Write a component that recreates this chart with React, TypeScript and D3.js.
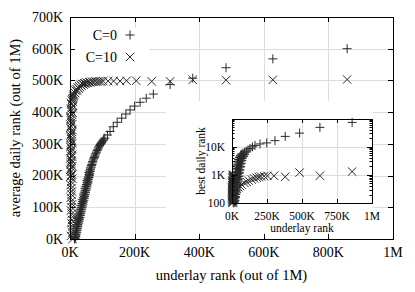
import React from "react";
import * as d3 from "d3";

// underlay rank (K) vs average daily rank (K), main plot
const c0Average = [
  [14, 0], [15, 5], [17, 10], [16, 16], [18, 22], [20, 28], [19, 34], [22, 40], [23, 46], [22, 52],
  [25, 58], [27, 64], [26, 70], [29, 76], [31, 82], [30, 88], [33, 94], [35, 100], [34, 106], [37, 112],
  [39, 118], [38, 124], [41, 130], [43, 136], [42, 142], [45, 148], [47, 154], [46, 160], [49, 166], [51, 172],
  [53, 178], [52, 184], [55, 190], [57, 196], [59, 203], [58, 210], [61, 217], [63, 224], [66, 232], [69, 240],
  [72, 249], [75, 257], [78, 265], [82, 274], [86, 283], [90, 291], [94, 298], [98, 304], [103, 311], [108, 318],
  [116, 328], [124, 339], [134, 354], [146, 368], [160, 381], [173, 394], [186, 407], [200, 419], [217, 431],
  [236, 444], [258, 457], [310, 487], [380, 507], [483, 540], [628, 568], [858, 600],
  [16, 2], [18, 8], [19, 14], [21, 20], [21, 26], [23, 32], [24, 38], [25, 44], [27, 50], [28, 56],
  [29, 62], [31, 68], [32, 74], [33, 80], [35, 86], [36, 92], [37, 98], [39, 104], [40, 110], [41, 116],
  [43, 122], [44, 128], [45, 134], [47, 140], [48, 146], [49, 152], [51, 158], [52, 164], [53, 170], [55, 176],
  [56, 182], [57, 188], [59, 194], [60, 200], [61, 206], [63, 213], [64, 220], [66, 227], [68, 235], [70, 244],
  [74, 253], [77, 261], [80, 270], [84, 279], [88, 287], [92, 295], [96, 301], [100, 308], [105, 315],
];

const c10Average = [
  [8, 0], [7, 20], [7, 40], [6, 60], [6, 80], [5, 100], [5, 120], [5, 140], [4, 160], [4, 180],
  [4, 200], [3, 212], [5, 224], [2, 236], [4, 248], [6, 260], [2, 272], [5, 284], [3, 296], [6, 308],
  [2, 320], [4, 332], [7, 344], [3, 356], [5, 368], [2, 380], [6, 392], [4, 404], [7, 414], [5, 424],
  [8, 433], [7, 441], [10, 449], [12, 456], [14, 462], [17, 468], [20, 473], [24, 478], [28, 482], [33, 486],
  [38, 489], [44, 491], [51, 493], [59, 495], [68, 496], [78, 497], [90, 497], [103, 498], [118, 498], [135, 498],
  [155, 498], [175, 499], [205, 499], [253, 497], [310, 497], [380, 502], [483, 501], [628, 502], [858, 503],
  [3, 10], [6, 30], [4, 50], [8, 70], [3, 90], [7, 110], [2, 130], [6, 150], [2, 170], [7, 190],
  [1, 196], [6, 204], [1, 218], [7, 230], [3, 242], [1, 254], [7, 266], [3, 278], [1, 290], [7, 302],
  [4, 314], [1, 326], [6, 338], [1, 350], [7, 362], [3, 374], [1, 386], [8, 398], [2, 410], [9, 420],
  [3, 429], [6, 437], [9, 444], [12, 452], [16, 460], [22, 468], [27, 474], [31, 479], [36, 483], [42, 487],
  [48, 490], [55, 492], [63, 494], [73, 495], [84, 496], [96, 497],
];

// underlay rank (K) vs best daily rank, inset
const c0Best = [
  [14, 100], [18, 110], [12, 125], [20, 140], [15, 155], [24, 170], [13, 190], [19, 210], [26, 230], [16, 255],
  [22, 280], [30, 310], [17, 340], [25, 370], [33, 400], [20, 440], [28, 480], [36, 520], [23, 570], [31, 620],
  [40, 680], [26, 740], [34, 800], [44, 870], [29, 950], [38, 1030], [48, 1120], [32, 1220], [42, 1330], [52, 1450],
  [36, 1580], [46, 1720], [56, 1870], [40, 2030], [50, 2200], [60, 2400], [45, 2600], [55, 2850], [65, 3100], [50, 3350],
  [60, 3650], [72, 3950], [57, 4300], [68, 4650], [80, 5000], [66, 5400], [78, 5800], [90, 6300], [102, 6900], [114, 7600],
  [128, 8600], [146, 9800], [164, 11000], [200, 12400], [248, 13500], [307, 16200], [380, 23000], [483, 30000],
  [628, 48000], [858, 72000],
  [8, 105], [22, 120], [10, 145], [25, 160], [9, 180], [28, 200], [11, 240], [30, 270], [14, 300], [35, 350],
  [12, 390], [38, 450], [18, 500], [42, 560], [21, 650], [46, 720], [24, 820], [50, 900], [27, 1050], [54, 1180],
  [30, 1300], [58, 1500], [34, 1700], [62, 1950], [38, 2250], [66, 2550], [43, 2900], [70, 3250], [48, 3500], [75, 3900],
  [54, 4100], [84, 4500], [62, 4900], [90, 5300],
];

const c10Best = [
  [3, 100], [6, 105], [2, 112], [8, 118], [4, 125], [1, 132], [7, 140], [3, 148], [9, 156], [5, 165],
  [2, 175], [8, 185], [4, 196], [10, 208], [6, 220], [3, 233], [9, 247], [5, 262], [12, 278], [7, 295],
  [3, 313], [10, 332], [5, 352], [14, 373], [8, 395], [4, 420], [12, 445], [6, 472], [16, 500], [9, 530],
  [5, 562], [13, 596], [8, 632], [18, 670], [11, 710], [6, 750], [15, 795], [9, 840], [20, 890], [12, 940],
  [7, 1000], [15, 220], [25, 270], [35, 320], [45, 360], [57, 400], [69, 450], [88, 520], [105, 560], [120, 620],
  [141, 680], [158, 740], [176, 790], [192, 830], [207, 870], [230, 900], [253, 920], [300, 920], [380, 850],
  [483, 1200], [628, 930], [858, 1300],
  [1, 160], [5, 180], [2, 205], [7, 230], [1, 260], [4, 290], [8, 320], [2, 350], [6, 390], [3, 430],
  [10, 480], [2, 520], [7, 580], [4, 640], [12, 700], [3, 770], [9, 850], [5, 920],
];

const mainXTicks = [0, 200, 400, 600, 800, 1000];
const mainXLabels = ["0K", "200K", "400K", "600K", "800K", "1M"];
const mainYTicks = [0, 100, 200, 300, 400, 500, 600, 700];
const mainYLabels = ["0K", "100K", "200K", "300K", "400K", "500K", "600K", "700K"];

const insetXTicks = [0, 250, 500, 750, 1000];
const insetXLabels = ["0K", "250K", "500K", "750K", "1M"];
const insetYTicks = [100, 1000, 10000];
const insetYLabels = ["100", "1K", "10K"];

const seriesNames = ["C=0", "C=10"];

const FONT = "'Liberation Serif', 'Times New Roman', serif";
const INK = "#2a2a2a";
const GRID = "#dcdcdc";

const plus = (cx, cy, s = 4.5) => `M${cx - s},${cy}h${2 * s}M${cx},${cy - s}v${2 * s}`;
const cross = (cx, cy, s = 4.2) => `M${cx - s},${cy - s}l${2 * s},${2 * s}M${cx - s},${cy + s}l${2 * s},${-2 * s}`;
const px = (v) => Math.round(v) + 0.5;

export default function App() {
  const x = d3.scaleLinear().domain([0, 1000]).range([70, 393]);
  const y = d3.scaleLinear().domain([0, 700]).range([239, 17]);
  const xi = d3.scaleLinear().domain([0, 1000]).range([232, 372]);
  const yi = d3.scaleLog().domain([100, 95000]).range([203, 119]);

  const [x0, x1] = x.range();
  const [y0, y1] = y.range();
  const [ix0, ix1] = xi.range();
  const [iy0, iy1] = yi.range();

  const minor = [];
  [100, 1000, 10000].forEach((d) => {
    for (let k = 2; k <= 9; k++) if (d * k <= yi.domain()[1]) minor.push(d * k);
  });

  return (
    <svg width={415} height={292} style={{ position: "absolute", left: 0, top: 0, background: "#fff" }} fontFamily={FONT}>
      {/* main grid */}
      <g stroke={GRID} strokeWidth={1}>
        {mainXTicks.slice(1, -1).map((t) => (
          <line key={"gx" + t} x1={px(x(t))} x2={px(x(t))} y1={y1} y2={y0} />
        ))}
        {mainYTicks.slice(1, -1).map((t) => (
          <line key={"gy" + t} x1={x0} x2={x1} y1={px(y(t))} y2={px(y(t))} />
        ))}
      </g>

      {/* main data */}
      <path d={c0Average.map(([a, b]) => plus(x(a), y(b))).join("")} stroke={INK} strokeWidth={1} fill="none" />
      <path d={c10Average.map(([a, b]) => cross(x(a), y(b))).join("")} stroke={INK} strokeWidth={1} fill="none" />

      {/* legend */}
      <rect x={71} y={28} width={78} height={48} fill="#fff" />
      <text x={117} y={35} dy="0.35em" textAnchor="end" fontSize={14}>{seriesNames[0]}</text>
      <path d={plus(130, 35)} stroke={INK} fill="none" />
      <text x={117} y={57} dy="0.35em" textAnchor="end" fontSize={14}>{seriesNames[1]}</text>
      <path d={cross(130, 57)} stroke={INK} fill="none" />

      {/* main frame and ticks */}
      <g stroke="#000" strokeWidth={1}>
        {mainXTicks.slice(1, -1).map((t) => (
          <g key={"tx" + t}>
            <line x1={px(x(t))} x2={px(x(t))} y1={y0} y2={y0 - 5} />
            <line x1={px(x(t))} x2={px(x(t))} y1={y1} y2={y1 + 5} />
          </g>
        ))}
        {mainYTicks.slice(1, -1).map((t) => (
          <g key={"ty" + t}>
            <line x1={x0} x2={x0 + 5} y1={px(y(t))} y2={px(y(t))} />
            <line x1={x1} x2={x1 - 5} y1={px(y(t))} y2={px(y(t))} />
          </g>
        ))}
      </g>
      <rect x={px(x0)} y={px(y1)} width={Math.round(x1 - x0)} height={Math.round(y0 - y1)} fill="none" stroke="#000" />

      {mainXTicks.map((t, i) => (
        <text key={"lx" + t} x={x(t)} y={257} textAnchor="middle" fontSize={14}>{mainXLabels[i]}</text>
      ))}
      {mainYTicks.map((t, i) => (
        <text key={"ly" + t} x={63} y={y(t)} dy="0.35em" textAnchor="end" fontSize={14}>{mainYLabels[i]}</text>
      ))}
      <text x={(x0 + x1) / 2} y={280} textAnchor="middle" fontSize={14.5}>underlay rank (out of 1M)</text>
      <text transform={`translate(20,${(y0 + y1) / 2}) rotate(-90)`} textAnchor="middle" fontSize={14.5}>
        average daily rank (out of 1M)
      </text>

      {/* inset */}
      <rect x={166} y={101} width={207} height={132} fill="#fff" />
      <g stroke={GRID} strokeWidth={1}>
        {insetXTicks.slice(1, -1).map((t) => (
          <line key={"igx" + t} x1={px(xi(t))} x2={px(xi(t))} y1={iy1} y2={iy0} />
        ))}
        {insetYTicks.slice(1).map((t) => (
          <line key={"igy" + t} x1={ix0} x2={ix1} y1={px(yi(t))} y2={px(yi(t))} />
        ))}
      </g>
      <path d={c0Best.map(([a, b]) => plus(xi(a), yi(b))).join("")} stroke={INK} strokeWidth={1} fill="none" />
      <path d={c10Best.map(([a, b]) => cross(xi(a), yi(b))).join("")} stroke={INK} strokeWidth={1} fill="none" />
      <g stroke="#000" strokeWidth={1}>
        {insetXTicks.slice(1, -1).map((t) => (
          <g key={"itx" + t}>
            <line x1={px(xi(t))} x2={px(xi(t))} y1={iy0} y2={iy0 - 4} />
            <line x1={px(xi(t))} x2={px(xi(t))} y1={iy1} y2={iy1 + 4} />
          </g>
        ))}
        {insetYTicks.slice(1).map((t) => (
          <g key={"ity" + t}>
            <line x1={ix0} x2={ix0 + 5} y1={px(yi(t))} y2={px(yi(t))} />
            <line x1={ix1} x2={ix1 - 5} y1={px(yi(t))} y2={px(yi(t))} />
          </g>
        ))}
        {minor.map((t) => (
          <g key={"im" + t}>
            <line x1={ix0} x2={ix0 + 2.5} y1={px(yi(t))} y2={px(yi(t))} />
            <line x1={ix1} x2={ix1 - 2.5} y1={px(yi(t))} y2={px(yi(t))} />
          </g>
        ))}
      </g>
      <rect x={px(ix0)} y={px(iy1)} width={Math.round(ix1 - ix0)} height={Math.round(iy0 - iy1)} fill="none" stroke="#000" />
      {insetXTicks.map((t, i) => (
        <text key={"ilx" + t} x={xi(t)} y={220} textAnchor="middle" fontSize={11.5}>{insetXLabels[i]}</text>
      ))}
      {insetYTicks.map((t, i) => (
        <text key={"ily" + t} x={225} y={yi(t)} dy="0.35em" textAnchor="end" fontSize={11.5}>{insetYLabels[i]}</text>
      ))}
      <text x={(ix0 + ix1) / 2} y={232} textAnchor="middle" fontSize={11.5}>underlay rank</text>
      <text transform={`translate(205,${(iy0 + iy1) / 2}) rotate(-90)`} textAnchor="middle" fontSize={11.5}>
        best daily rank
      </text>
    </svg>
  );
}
